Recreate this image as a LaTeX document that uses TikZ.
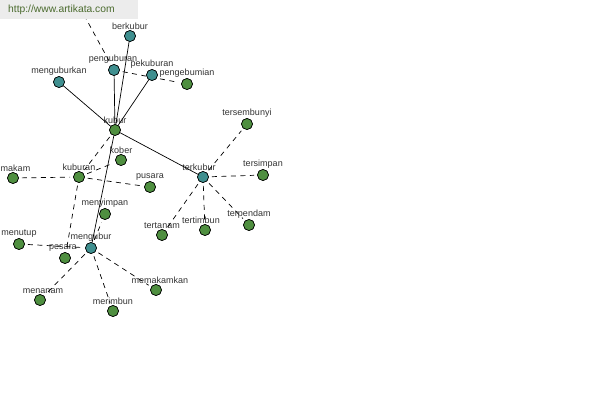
\documentclass[tikz,border=0pt]{standalone}
\usepackage{fontspec}
\setmainfont{Liberation Sans}
\begin{document}
\begin{tikzpicture}[x=1pt,y=-1pt,
  base/.style={circle,draw=black,line width=0.6pt,minimum size=11pt,inner sep=0pt},
  gnode/.style={base,fill=nodegreen},
  tnode/.style={base,fill=nodeteal},
  lbl/.style={font=\fontsize{9}{10}\selectfont,text=labelgray,inner sep=0.3pt},
  solidedge/.style={draw=black,line width=0.7pt},
  dashedge/.style={draw=black,line width=0.7pt,dash pattern=on 5pt off 4.5pt,shorten <=3pt,shorten >=3pt}]
\definecolor{nodegreen}{HTML}{4F8F40}
\definecolor{nodeteal}{HTML}{3F8F8F}
\definecolor{labelgray}{HTML}{333333}
\definecolor{wmgray}{HTML}{ECECEC}
\definecolor{wmtext}{HTML}{4B6B2E}
\useasboundingbox[fill=white] (0,0) rectangle (600,400);

% nodes
\node[tnode,label={[lbl]90:berkubur}] (berkubur) at (130,36) {};
\node[tnode,label={[lbl,xshift=-1pt]90:penguburan}] (penguburan) at (114,70) {};
\node[tnode,label={[lbl]90:pekuburan}] (pekuburan) at (152,75) {};
\node[gnode,label={[lbl]90:pengebumian}] (pengebumian) at (187,84) {};
\node[tnode,label={[lbl]90:menguburkan}] (menguburkan) at (59,82) {};
\node[gnode,label={[lbl]90:kubur}] (kubur) at (115,130) {};
\node[gnode,label={[lbl]90:tersembunyi}] (tersembunyi) at (247,124) {};
\node[gnode,label={[lbl]90:kober}] (kober) at (121,160) {};
\node[gnode,label={[lbl,xshift=2.5pt]90:makam}] (makam) at (13,178) {};
\node[gnode,label={[lbl]90:kuburan}] (kuburan) at (79,177) {};
\node[gnode,label={[lbl]90:pusara}] (pusara) at (150,187) {};
\node[tnode,label={[lbl,xshift=-4pt]90:terkubur}] (terkubur) at (203,177) {};
\node[gnode,label={[lbl]90:tersimpan}] (tersimpan) at (263,175) {};
\node[gnode,label={[lbl]90:menyimpan}] (menyimpan) at (105,214) {};
\node[gnode,label={[lbl]90:tertanam}] (tertanam) at (162,235) {};
\node[gnode,label={[lbl,xshift=-4pt]90:tertimbun}] (tertimbun) at (205,230) {};
\node[gnode,label={[lbl]90:terpendam}] (terpendam) at (249,225) {};
\node[gnode,label={[lbl]90:menutup}] (menutup) at (19,244) {};
\node[tnode,label={[lbl]90:mengubur}] (mengubur) at (91,248) {};
\node[gnode,label={[lbl,xshift=-2pt]90:pesara}] (pesara) at (65,258) {};
\node[gnode,label={[lbl,xshift=3pt]90:menanam}] (menanam) at (40,300) {};
\node[gnode,label={[lbl]90:merimbun}] (merimbun) at (113,311) {};
\node[gnode,label={[lbl,xshift=4pt]90:memakamkan}] (memakamkan) at (156,290) {};
\coordinate (offtop) at (78,4);

% edges
\path[solidedge] (berkubur) -- (kubur);
\path[solidedge] (penguburan) -- (kubur);
\path[solidedge] (pekuburan) -- (kubur);
\path[solidedge] (menguburkan) -- (kubur);
\path[solidedge] (kubur) -- (terkubur);
\path[solidedge] (kubur) -- (mengubur);

\path[dashedge] (offtop) -- (penguburan);
\path[dashedge] (penguburan) -- (pengebumian);
\path[dashedge] (kubur) -- (kuburan);
\path[dashedge] (kuburan) -- (kober);
\path[dashedge] (makam) -- (kuburan);
\path[dashedge] (kuburan) -- (pusara);
\path[dashedge] (kuburan) -- (pesara);
\path[dashedge] (terkubur) -- (tersembunyi);
\path[dashedge] (terkubur) -- (tersimpan);
\path[dashedge] (terkubur) -- (tertanam);
\path[dashedge] (terkubur) -- (tertimbun);
\path[dashedge] (terkubur) -- (terpendam);
\path[dashedge] (mengubur) -- (menyimpan);
\path[dashedge] (menutup) -- (mengubur);
\path[dashedge] (mengubur) -- (menanam);
\path[dashedge] (mengubur) -- (merimbun);
\path[dashedge] (mengubur) -- (memakamkan);

% redraw nodes on top of edges
\foreach \n in {berkubur,penguburan,pekuburan,menguburkan,terkubur,mengubur}
  \path[draw=black,line width=0.6pt,fill=nodeteal] (\n) circle (5.5pt);
\foreach \n in {pengebumian,kubur,tersembunyi,kober,makam,kuburan,pusara,tersimpan,menyimpan,tertanam,tertimbun,terpendam,menutup,pesara,menanam,merimbun,memakamkan}
  \path[draw=black,line width=0.6pt,fill=nodegreen] (\n) circle (5.5pt);

% watermark
\node[fill=wmgray,minimum width=138pt,minimum height=19pt,anchor=north west,inner sep=0pt] (wmbox) at (0,0) {};
\node[anchor=west,text=wmtext,font=\fontsize{10.3}{11}\selectfont,inner sep=0pt] (wmtxt) at (8,10) {http://www.artikata.com};
\end{tikzpicture}
\end{document}
